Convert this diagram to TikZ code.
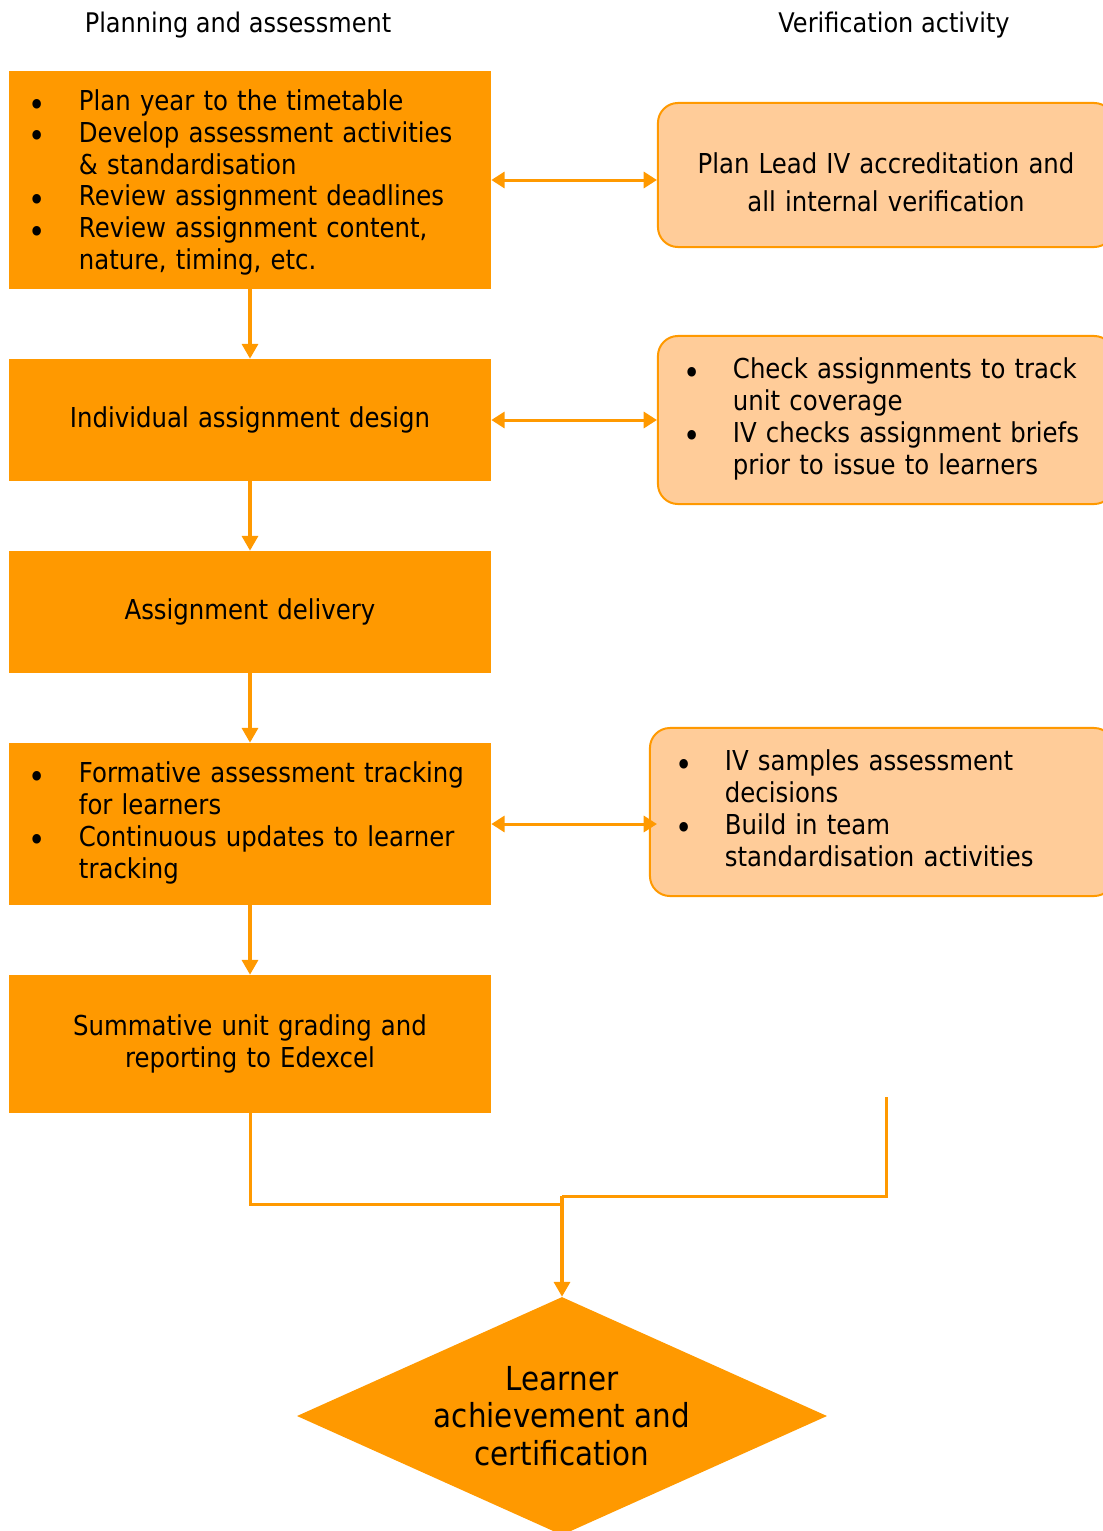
\documentclass[tikz,border=0pt]{standalone}
\usepackage{fontspec}
\usepackage{graphicx}
\setmainfont{DejaVu Sans}[FakeStretch=0.89]
\usetikzlibrary{shapes.geometric,arrows.meta}

\definecolor{boxorange}{HTML}{FF9900}
\definecolor{paleorange}{HTML}{FFCC99}

\newlength{\bulpre}
\newlength{\bulcol}
\newcommand{\bul}{\raisebox{-4pt}[0pt][0pt]{\scalebox{1.2}{\textbullet}}}
\newenvironment{bulletlist}
  {\begin{tabular}{@{\hspace{\bulpre}}p{\bulcol}@{}l@{}}}
  {\end{tabular}}
\newcommand{\bodyfont}{\fontsize{19.5pt}{22.6pt}\selectfont}

\tikzset{
  stage/.style={rectangle, fill=boxorange, minimum width=12.05cm,
    text width=11.05cm, inner xsep=0.5cm, inner ysep=0pt, font=\bodyfont,
    execute at begin node={\setlength{\bulpre}{-0.02cm}\setlength{\bulcol}{1.27cm}}},
  check/.style={rectangle, rounded corners=0.5cm, draw=boxorange,
    line width=0.05cm, fill=paleorange, minimum width=11.4cm,
    text width=10.4cm, inner xsep=0.5cm, inner ysep=0pt, font=\bodyfont,
    execute at begin node={\setlength{\bulpre}{0.13cm}\setlength{\bulcol}{1.245cm}}},
  goal/.style={diamond, aspect=2.2, fill=boxorange, minimum width=13.25cm,
    minimum height=5.95cm, inner sep=0pt, align=center,
    font=\fontsize{23.5pt}{26.7pt}\selectfont},
  heading/.style={font=\fontsize{19.2pt}{22pt}\selectfont},
  flow/.style={draw=boxorange, line width=0.08cm,
    -{Triangle[length=0.37cm,width=0.4cm]}},
  twoway/.style={draw=boxorange, line width=0.075cm,
    {Triangle[length=0.33cm,width=0.4cm]}-{Triangle[length=0.33cm,width=0.4cm]}},
  joinline/.style={draw=boxorange, line width=0.075cm}
}

\begin{document}
\begin{tikzpicture}[x=0.025cm, y=-0.025cm]
  \useasboundingbox (0,0) rectangle (1103,1531);

  % column headings
  \node[heading] (planhead) at (238,25) {Planning and assessment};
  \node[heading] (verifyhead) at (894,25) {Verification activity};

  % planning and assessment column
  \node[stage, minimum height=5.45cm, align=left] (plan) at (250,180) {%
    \begin{bulletlist}
      \bul & \rule{0pt}{21pt}Plan year to the timetable\\
      \bul & Develop assessment activities\\
           & \& standardisation\\
      \bul & Review assignment deadlines\\
      \bul & Review assignment content,\\
           & nature, timing, etc.
    \end{bulletlist}};
  \node[stage, minimum height=3.05cm, align=center] (design) at (250,420)
    {Individual assignment design};
  \node[stage, minimum height=3.05cm, align=center] (delivery) at (250,612)
    {Assignment delivery};
  \node[stage, minimum height=4.05cm, align=left] (formative) at (250,824) {%
    \begin{bulletlist}
      \bul & Formative assessment tracking\\
           & for learners\\
      \bul & Continuous updates to learner\\
           & tracking
    \end{bulletlist}};
  \node[stage, minimum height=3.45cm, align=center] (summative) at (250,1044)
    {Summative unit grading and\\ reporting to Edexcel};

  % verification column
  \node[check, minimum height=3.6cm, align=center,
    font=\fontsize{19.5pt}{27pt}\selectfont] (leadiv) at (886,175)
    {\rule{0pt}{25pt}Plan Lead IV accreditation and\\ all internal verification};
  \node[check, minimum height=4.2cm, align=left] (briefs) at (886,420) {%
    \begin{bulletlist}
      \bul & Check assignments to track\\
           & unit coverage\\
      \bul & IV checks assignment briefs\\
           & prior to issue to learners
    \end{bulletlist}};
  \node[check, minimum height=4.2cm, minimum width=11.6cm, text width=10.6cm,
    align=left] (sampling) at (882,812) {%
    \begin{bulletlist}
      \bul & IV samples assessment\\
           & decisions\\
      \bul & Build in team\\
           & standardisation activities
    \end{bulletlist}};

  \node[goal] (learner) at (562,1416)
    {Learner\\ achievement and\\ certification};

  \coordinate (ivend) at (886,1097);
  \coordinate (leftjoin) at (562,1204);
  \coordinate (merge) at (562,1196);

  % connectors
  \draw[flow] (plan) -- (design);
  \draw[flow] (design) -- (delivery);
  \draw[flow] (delivery) -- (formative);
  \draw[flow] (formative) -- (summative);

  \draw[twoway] (plan.east |- 0,180) -- (leadiv.west |- 0,180);
  \draw[twoway] (design.east) -- (briefs.west);
  \draw[twoway] (formative.east) -- (formative.east -| briefs.west);

  \draw[joinline] (summative.south) |- (leftjoin);
  \draw[joinline] (ivend) |- (merge);
  \draw[flow] (merge) -- (learner.north);
\end{tikzpicture}
\end{document}
